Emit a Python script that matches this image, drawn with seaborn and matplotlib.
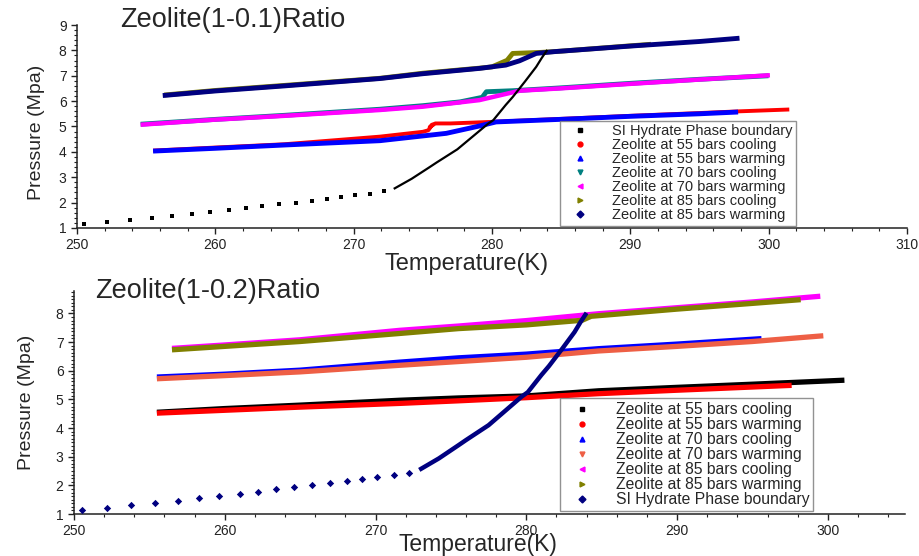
import matplotlib
matplotlib.use("Agg")
import matplotlib.pyplot as plt
import seaborn as sns
from matplotlib.lines import Line2D
from matplotlib.ticker import MultipleLocator

sns.set_style("ticks")
plt.rcParams['font.family'] = ['Liberation Sans', 'DejaVu Sans']

# SI hydrate phase boundary (same in both panels)
bnd_t_sparse = [250.5, 252.2, 253.8, 255.4, 256.9, 258.3, 259.6, 261.0, 262.2, 263.4,
                264.6, 265.8, 267.0, 268.1, 269.1, 270.1, 271.2, 272.2]
bnd_p_sparse = [1.14, 1.22, 1.30, 1.38, 1.46, 1.55, 1.62, 1.70, 1.78, 1.87,
                1.93, 2.00, 2.07, 2.14, 2.22, 2.28, 2.35, 2.44]
bnd_t_dense = [272.9, 274.2, 275.5, 276.0, 277.5, 278.6, 279.7, 280.1, 281.0, 281.5,
               282.4, 283.2, 283.6, 284.0]
bnd_p_dense = [2.54, 2.94, 3.40, 3.58, 4.10, 4.60, 5.10, 5.25, 5.85, 6.16,
               6.78, 7.35, 7.70, 8.02]

# Zeolite(1-0.1)
t1_55c = [255.5, 260, 265, 271.9, 275.0, 275.4, 275.7, 275.5, 275.9, 277, 279.9, 285, 290, 295, 298, 301.5]
p1_55c = [4.05, 4.17, 4.30, 4.60, 4.79, 4.85, 5.08, 4.97, 5.12, 5.12, 5.18, 5.30, 5.42, 5.53, 5.60, 5.67]
t1_55w = [255.5, 260, 265, 271.9, 276.7, 279.1, 280.3, 284.9, 290, 295, 297.8]
p1_55w = [4.03, 4.14, 4.27, 4.44, 4.73, 5.02, 5.18, 5.28, 5.40, 5.50, 5.57]
t1_70c = [254.6, 260, 265, 271.9, 275, 277.7, 279.3, 279.6, 281.5, 284.9, 290, 295, 300]
p1_70c = [5.09, 5.28, 5.44, 5.68, 5.82, 5.97, 6.15, 6.37, 6.41, 6.52, 6.70, 6.86, 7.00]
t1_70w = [254.6, 260, 265, 271.9, 275, 279.1, 282, 284.9, 290, 295, 300.1]
p1_70w = [5.07, 5.27, 5.42, 5.65, 5.78, 6.04, 6.41, 6.50, 6.68, 6.85, 7.02]
t1_85c = [256.3, 260, 265, 271.9, 275, 279.1, 280, 281.1, 281.5, 283.5, 285, 290, 291.5]
p1_85c = [6.24, 6.42, 6.62, 6.90, 7.10, 7.30, 7.35, 7.61, 7.88, 7.92, 7.97, 8.18, 8.24]
t1_85w = [256.2, 260, 265, 271.9, 275, 279.1, 281, 282, 283.2, 284.5, 290, 295, 297.9]
p1_85w = [6.22, 6.40, 6.60, 6.89, 7.08, 7.29, 7.42, 7.59, 7.88, 7.95, 8.17, 8.35, 8.48]

# Zeolite(1-0.2)
t2_55c = [255.5, 260, 265, 271.6, 275.5, 280, 284.8, 290, 295, 301.1]
p2_55c = [4.55, 4.68, 4.80, 4.97, 5.05, 5.12, 5.30, 5.42, 5.53, 5.67]
t2_55w = [255.5, 260, 265, 271.6, 275.5, 280, 284.8, 290, 297.6]
p2_55w = [4.52, 4.62, 4.73, 4.86, 4.95, 5.06, 5.20, 5.32, 5.49]
t2_70c = [255.5, 260, 265, 271.6, 275.5, 280, 284.8, 290, 295.6]
p2_70c = [5.78, 5.88, 6.02, 6.30, 6.45, 6.58, 6.77, 6.93, 7.12]
t2_70w = [255.5, 260, 265, 271.6, 275.5, 280, 284.8, 290, 295, 299.7]
p2_70w = [5.72, 5.83, 5.96, 6.19, 6.32, 6.47, 6.69, 6.85, 7.02, 7.22]
t2_85c = [256.5, 260, 265, 271.6, 275.5, 280, 284.8, 290, 295, 299.5]
p2_85c = [6.78, 6.90, 7.08, 7.41, 7.56, 7.75, 7.99, 8.20, 8.40, 8.60]
t2_85w = [256.5, 260, 265, 271.6, 275.5, 280, 283.7, 284.3, 290, 295, 298.2]
p2_85w = [6.73, 6.85, 7.02, 7.30, 7.47, 7.60, 7.76, 7.90, 8.15, 8.35, 8.48]

labels_top = ['SI Hydrate Phase boundary', 'Zeolite at 55 bars cooling', 'Zeolite at 55 bars warming',
              'Zeolite at 70 bars cooling', 'Zeolite at 70 bars warming', 'Zeolite at 85 bars cooling',
              'Zeolite at 85 bars warming']
labels_bot = labels_top[1:] + labels_top[:1]


def curve(ax, t, p, color, lw=3.5, z=2):
    sns.lineplot(x=t, y=p, ax=ax, color=color, lw=lw, sort=False, estimator=None,
                 zorder=z, solid_capstyle='butt')


def style_axes(ax, xlim, ylim, yminor):
    ax.set_xlim(*xlim)
    ax.set_ylim(*ylim)
    ax.xaxis.set_major_locator(MultipleLocator(10))
    ax.xaxis.set_minor_locator(MultipleLocator(2))
    ax.yaxis.set_major_locator(MultipleLocator(1))
    ax.yaxis.set_minor_locator(MultipleLocator(yminor))
    sns.despine(ax=ax)
    for s in ['left', 'bottom']:
        ax.spines[s].set_linewidth(1.1)
        ax.spines[s].set_color('#222222')
    ax.tick_params(which='major', direction='out', length=4, width=1, labelsize=10, colors='#222222')
    ax.tick_params(which='minor', direction='out', length=2.5, width=0.8, colors='#222222')


def legend(ax, labels, colors, markers, anchor, fs):
    handles = [Line2D([], [], ls='none', marker=m, color=c, markersize=3.5) for c, m in zip(colors, markers)]
    leg = ax.legend(handles, labels, loc='lower left', bbox_to_anchor=anchor, fontsize=fs,
                    frameon=True, fancybox=False, edgecolor='#777777', labelspacing=0.0,
                    handletextpad=1.0, borderpad=0.25, handlelength=2.3, borderaxespad=0)
    leg.get_frame().set_linewidth(1.0)


fig = plt.figure(figsize=(9.2, 5.56), dpi=100)
ax1 = fig.add_axes([0.0837, 0.590, 0.902, 0.365])
ax2 = fig.add_axes([0.0804, 0.0755, 0.903, 0.401])

# top panel
curve(ax1, t1_55c, p1_55c, 'red', lw=2.8)
curve(ax1, t1_55w, p1_55w, 'blue')
curve(ax1, t1_70c, p1_70c, 'teal')
curve(ax1, t1_70w, p1_70w, 'magenta', lw=3.2)
curve(ax1, t1_85c, p1_85c, 'olive')
curve(ax1, t1_85w, p1_85w, 'navy')
sns.scatterplot(x=bnd_t_sparse, y=bnd_p_sparse, ax=ax1, marker='s', s=7, color='black',
                linewidth=0, zorder=4)
curve(ax1, bnd_t_dense, bnd_p_dense, 'black', lw=1.6, z=4)
style_axes(ax1, (250, 310), (1, 9), 0.2)
legend(ax1, labels_top, ['black', 'red', 'blue', 'teal', 'magenta', 'olive', 'navy'],
       ['s', 'o', '^', 'v', '<', '>', 'D'], (0.582, 0.01), 10.5)
ax1.set_xlabel('Temperature(K)', fontsize=17)
ax1.xaxis.set_label_coords(0.469, -0.122)
ax1.set_ylabel('Pressure (Mpa)', fontsize=14)
ax1.yaxis.set_label_coords(-0.039, 0.473)
fig.text(120 / 920, 1 - 20 / 556, 'Zeolite(1-0.1)Ratio', fontsize=19.5, va='center', ha='left')

# bottom panel
curve(ax2, t2_55c, p2_55c, 'black', lw=3.8)
curve(ax2, t2_55w, p2_55w, 'red', lw=3.8)
curve(ax2, t2_70c, p2_70c, 'blue', lw=3.8)
curve(ax2, t2_70w, p2_70w, '#ee5f45', lw=3.8)
curve(ax2, t2_85c, p2_85c, 'magenta', lw=3.8)
curve(ax2, t2_85w, p2_85w, 'olive', lw=3.8)
sns.scatterplot(x=bnd_t_sparse, y=bnd_p_sparse, ax=ax2, marker='D', s=14, color='navy',
                linewidth=0, zorder=4)
curve(ax2, bnd_t_dense, bnd_p_dense, 'navy', lw=3.2, z=4)
style_axes(ax2, (250, 305.1), (1, 8.78), 0.125)
legend(ax2, labels_bot, ['black', 'red', 'blue', '#ee5f45', 'magenta', 'olive', 'navy'],
       ['s', 'o', '^', 'v', '<', '>', 'D'], (0.585, 0.013), 11.3)
ax2.set_xlabel('Temperature(K)', fontsize=16.5)
ax2.xaxis.set_label_coords(0.486, -0.083)
ax2.set_ylabel('Pressure (Mpa)', fontsize=14)
ax2.yaxis.set_label_coords(-0.047, 0.50)
fig.text(95 / 920, 1 - 291 / 556, 'Zeolite(1-0.2)Ratio', fontsize=19.5, va='center', ha='left')

fig.savefig('out.png', dpi=100)
